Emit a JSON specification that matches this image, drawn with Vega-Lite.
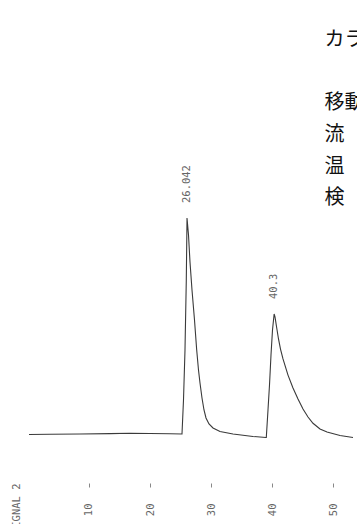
{
  "$schema": "https://vega.github.io/schema/vega-lite/v6.json",
  "width": 357,
  "height": 482,
  "autosize": {"type": "none"},
  "padding": {"left": 0, "top": 0, "right": 0, "bottom": 42},
  "background": "white",
  "config": {"view": {"stroke": null}},
  "datasets": {
    "trace": [
      {"t": 0.18, "s": -0.23},
      {"t": 3.617, "s": -0.09},
      {"t": 8.527, "s": 0},
      {"t": 13.437, "s": 0.19},
      {"t": 16.71, "s": 0.33},
      {"t": 19.984, "s": 0.23},
      {"t": 23.257, "s": 0.09},
      {"t": 25.221, "s": 0},
      {"t": 25.466, "s": 15.81},
      {"t": 25.712, "s": 39.07},
      {"t": 25.925, "s": 71.63},
      {"t": 26.042, "s": 100.47},
      {"t": 26.285, "s": 92.56},
      {"t": 26.53, "s": 80.0},
      {"t": 26.858, "s": 66.98},
      {"t": 27.267, "s": 53.02},
      {"t": 27.627, "s": 39.07},
      {"t": 27.921, "s": 29.77},
      {"t": 28.167, "s": 23.72},
      {"t": 28.494, "s": 16.74},
      {"t": 28.822, "s": 11.16},
      {"t": 29.149, "s": 7.44},
      {"t": 29.64, "s": 4.65},
      {"t": 30.295, "s": 2.79},
      {"t": 31.44, "s": 1.16},
      {"t": 33.568, "s": 0},
      {"t": 36.841, "s": -1.16},
      {"t": 38.969, "s": -1.63},
      {"t": 39.018, "s": -1.63},
      {"t": 39.296, "s": 11.16},
      {"t": 39.542, "s": 22.79},
      {"t": 39.787, "s": 36.74},
      {"t": 40.033, "s": 48.37},
      {"t": 40.3, "s": 55.81},
      {"t": 40.442, "s": 54.42},
      {"t": 40.687, "s": 50.0},
      {"t": 41.015, "s": 44.2},
      {"t": 41.342, "s": 39.5},
      {"t": 41.751, "s": 34.9},
      {"t": 42.57, "s": 27.4},
      {"t": 43.388, "s": 21.4},
      {"t": 44.206, "s": 16.3},
      {"t": 45.025, "s": 11.6},
      {"t": 45.843, "s": 7.9},
      {"t": 46.661, "s": 5.0},
      {"t": 47.807, "s": 2.3},
      {"t": 48.953, "s": 0.9},
      {"t": 51.08, "s": -0.7},
      {"t": 53.208, "s": -1.63}
    ],
    "peaks": [
      {"t": 26.042, "s": 100.47, "label": "26.042"},
      {"t": 40.3, "s": 55.81, "label": "40.3"}
    ],
    "notes": [
      {"t": 48.55, "s": 180.5, "text": "カラム"},
      {"t": 48.55, "s": 151.0, "text": "移動相\n流　量\n温　度\n検　出"}
    ]
  },
  "layer": [
    {
      "data": {"name": "trace"},
      "mark": {"type": "line", "color": "#3a3a3a", "strokeWidth": 1.1, "interpolate": "linear", "clip": false},
      "encoding": {
        "x": {
          "field": "t",
          "type": "quantitative",
          "scale": {"domain": [-4.566, 53.863], "nice": false, "zero": false},
          "axis": {
            "values": [10, 20, 30, 40, 50],
            "domain": false,
            "grid": false,
            "offset": 1,
            "ticks": true,
            "tickSize": 4,
            "tickWidth": 1,
            "tickColor": "#888888",
            "labelAngle": 270,
            "labelAlign": "right",
            "labelBaseline": "middle",
            "labelPadding": 16,
            "labelFont": "DejaVu Sans Mono",
            "labelFontSize": 10.5,
            "labelColor": "#666666",
            "labelOverlap": false,
            "title": "SIGNAL 2",
            "titleAngle": 270,
            "titleAlign": "right",
            "titleBaseline": "middle",
            "titleX": 16,
            "titleY": 0,
            "titleFont": "DejaVu Sans Mono",
            "titleFontSize": 10.5,
            "titleFontWeight": "normal",
            "titleColor": "#666666"
          }
        },
        "y": {
          "field": "s",
          "type": "quantitative",
          "scale": {"domain": [-22.33, 201.86], "nice": false, "zero": false},
          "axis": null
        }
      }
    },
    {
      "data": {"name": "peaks"},
      "mark": {"type": "text", "angle": 270, "align": "left", "baseline": "middle", "dx": 15, "font": "DejaVu Sans Mono", "fontSize": 10.5, "color": "#666666"},
      "encoding": {
        "x": {"field": "t", "type": "quantitative"},
        "y": {"field": "s", "type": "quantitative"},
        "text": {"field": "label", "type": "nominal"}
      }
    },
    {
      "data": {"name": "notes"},
      "mark": {"type": "text", "align": "left", "baseline": "alphabetic", "lineBreak": "\n", "lineHeight": 31.7, "font": "Noto Sans CJK JP", "fontSize": 20, "color": "#111111"},
      "encoding": {
        "x": {"field": "t", "type": "quantitative"},
        "y": {"field": "s", "type": "quantitative"},
        "text": {"field": "text", "type": "nominal"}
      }
    }
  ]
}
